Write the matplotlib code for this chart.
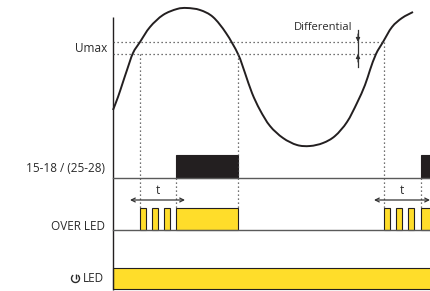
import matplotlib
matplotlib.use("Agg")
import matplotlib.pyplot as plt
from matplotlib.patches import Rectangle, Arc, PathPatch
from matplotlib.path import Path

# ---- data (pixel-space schematic) ----
wave_x = [113, 118, 123, 127, 133, 140, 150, 163, 177, 187, 200, 213, 226, 238, 245, 252,
          260, 270, 283, 297, 310, 323, 335, 347, 357, 365, 370, 376, 383, 392, 402, 413]
wave_y = [110, 97, 82, 70, 53, 42, 27, 15, 9, 8, 10, 17, 33, 54, 73, 93,
          110, 126, 138, 145, 146, 143, 136, 122, 103, 85, 70, 54, 42, 27, 18, 12]
umax_hi = 42
umax_lo = 54
relay_on = [(176, 238), (421, 440)]
pulses = [140, 152, 164, 384, 396, 408]
pulse_w = 6
over_on = [(176, 238), (421, 440)]
row_labels = ["Umax", "15-18 / (25-28)", "OVER LED", "LED"]

DARK = "#231f20"
GREY = "#5a5a5a"
YEL = "#ffdd2a"
TXT = "#2a2a2a"

fig = plt.figure(figsize=(4.30, 2.91), dpi=100)
ax = fig.add_axes([0, 0, 1, 1])
ax.set_xlim(0, 430)
ax.set_ylim(291, 0)
ax.axis("off")

X0 = 113
XR = 430
font = dict(family=["Open Sans", "DejaVu Sans"], color=TXT)

# axis line
ax.plot([X0, X0], [17, 290], color=DARK, lw=1.0, solid_capstyle="butt")

# Umax dotted lines
dot = dict(color="#444444", lw=0.9, linestyle=(0, (1, 2.2)))
ax.plot([X0, 383], [umax_hi, umax_hi], **dot)
ax.plot([X0, 377], [umax_lo, umax_lo], **dot)

# waveform: smooth curve through the read points (Catmull-Rom -> cubic Bezier path)
pts = list(zip(wave_x, wave_y))
verts = [pts[0]]
codes = [Path.MOVETO]
for i in range(len(pts) - 1):
    p0 = pts[i - 1] if i > 0 else pts[i]
    p1 = pts[i]
    p2 = pts[i + 1]
    p3 = pts[i + 2] if i + 2 < len(pts) else pts[i + 1]
    c1 = (p1[0] + (p2[0] - p0[0]) / 6.0, p1[1] + (p2[1] - p0[1]) / 6.0)
    c2 = (p2[0] - (p3[0] - p1[0]) / 6.0, p2[1] - (p3[1] - p1[1]) / 6.0)
    verts += [c1, c2, p2]
    codes += [Path.CURVE4] * 3
ax.add_patch(PathPatch(Path(verts, codes), facecolor="none", edgecolor=DARK, lw=1.4))

# vertical dotted guides
ax.plot([140, 140], [umax_lo, 208], **dot)
ax.plot([176, 176], [178, 208], **dot)
ax.plot([238, 238], [umax_lo, 208], **dot)
ax.plot([384, 384], [umax_hi, 208], **dot)
ax.plot([421, 421], [178, 208], **dot)

# relay row
ax.plot([X0, XR], [178, 178], color=GREY, lw=1.0)
for a, b in relay_on:
    ax.add_patch(Rectangle((a, 155), b - a, 23, facecolor=DARK, edgecolor=DARK, lw=0.8))

# t arrows
for a, b in [(130, 185), (374, 430)]:
    ax.annotate("", xy=(a, 200), xytext=(b, 200),
                arrowprops=dict(arrowstyle="<->", color="#333333", lw=0.9,
                                shrinkA=0, shrinkB=0, mutation_scale=7))
ax.text(158, 191, "t", ha="center", va="center", fontsize=8.5, **font)
ax.text(402, 191, "t", ha="center", va="center", fontsize=8.5, **font)

# OVER LED row
ax.plot([X0, XR], [230, 230], color=GREY, lw=1.0)
for p in pulses:
    ax.add_patch(Rectangle((p, 208), pulse_w, 22, facecolor=YEL, edgecolor=DARK, lw=0.8))
for a, b in over_on:
    ax.add_patch(Rectangle((a, 208), b - a, 22, facecolor=YEL, edgecolor=DARK, lw=0.8))

# power LED row
ax.add_patch(Rectangle((X0, 268), 330, 21, facecolor=YEL, edgecolor=DARK, lw=0.8))

# differential arrow
ax.plot([358, 358], [30, 67], color="#333333", lw=0.9)
ax.annotate("", xy=(358, umax_hi), xytext=(358, 34),
            arrowprops=dict(arrowstyle="-|>", color="#333333", lw=0.8, shrinkA=0, shrinkB=0,
                            mutation_scale=6))
ax.annotate("", xy=(358, umax_lo), xytext=(358, 62),
            arrowprops=dict(arrowstyle="-|>", color="#333333", lw=0.8, shrinkA=0, shrinkB=0,
                            mutation_scale=6))
ax.text(352, 28, "Differential", ha="right", va="center", fontsize=8, **font)

# row labels
ax.text(107, 48, row_labels[0], ha="right", va="center", fontsize=8.5, **font)
ax.text(105, 169, row_labels[1], ha="right", va="center", fontsize=8.5, **font)
ax.text(105, 226, row_labels[2], ha="right", va="center", fontsize=8.5, **font)
ax.text(104, 279, row_labels[3], ha="right", va="center", fontsize=8.5, **font)

# power symbol (no installed font has U+23FB): arc with gap at top + vertical stroke
# (y axis is inverted, so screen-top is data angle -90)
ax.add_patch(Arc((75.5, 278.5), 8, 8, theta1=-55, theta2=235, color=TXT, lw=1.0))
ax.plot([75.5, 75.5], [273.5, 278.5], color=TXT, lw=1.0, solid_capstyle="butt")

fig.savefig("out.png", dpi=100)
